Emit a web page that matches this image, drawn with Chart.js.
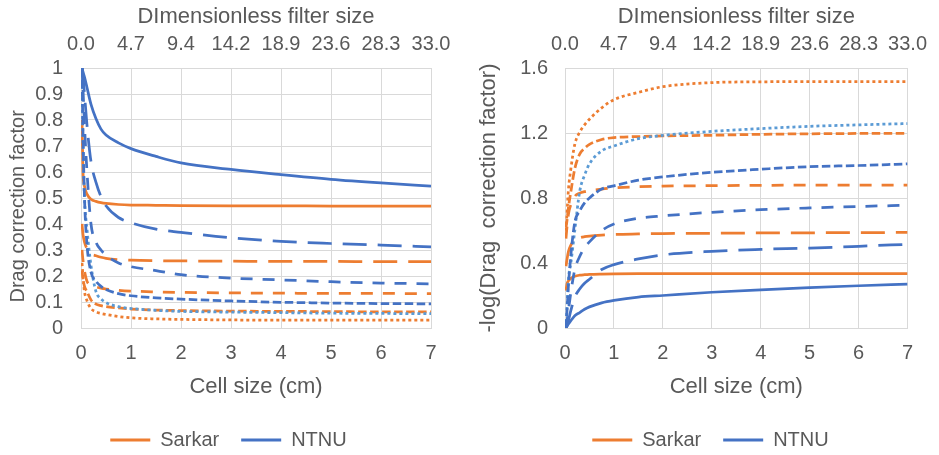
<!DOCTYPE html>
<html>
<head>
<meta charset="utf-8">
<script src="https://cdn.jsdelivr.net/npm/chart.js@4.4.1/dist/chart.umd.min.js"></script>
<style>
  html, body { margin: 0; padding: 0; background: #ffffff; }
  #wrap { position: relative; width: 939px; height: 455px; }
  .panel { position: absolute; top: 0; height: 455px; }
  #p1 { left: 0; width: 470px; }
  #p2 { left: 470px; width: 469px; }
</style>
</head>
<body>
<div id="wrap">
  <div class="panel" id="p1"><canvas id="c1"></canvas></div>
  <div class="panel" id="p2"><canvas id="c2"></canvas></div>
</div>
<script>
// Cell size (cm) at which each curve is sampled
const cellSize = [0.02, 0.04, 0.07, 0.12, 0.2, 0.3, 0.4, 0.5, 0.75, 1, 1.5, 2, 3, 4, 5, 6, 7];

// Tick labels
const bottomTicks = ['0', '1', '2', '3', '4', '5', '6', '7'];
const topTicks = ['0.0', '4.7', '9.4', '14.2', '18.9', '23.6', '28.3', '33.0'];
const factorTicks = ['0', '0.1', '0.2', '0.3', '0.4', '0.5', '0.6', '0.7', '0.8', '0.9', '1'];
const logTicks = ['0', '0.4', '0.8', '1.2', '1.6'];

// Drag correction factor (left panel)
const sarkarSolid = [0.80, 0.60, 0.545, 0.515, 0.495, 0.487, 0.482, 0.479, 0.475, 0.473, 0.472, 0.471, 0.470, 0.470, 0.469, 0.469, 0.469];
const sarkarLong  = [0.40, 0.36, 0.33, 0.305, 0.285, 0.278, 0.272, 0.268, 0.263, 0.261, 0.259, 0.258, 0.257, 0.256, 0.256, 0.255, 0.255];
const sarkarDash  = [0.30, 0.26, 0.22, 0.18, 0.165, 0.158, 0.153, 0.15, 0.145, 0.142, 0.139, 0.137, 0.135, 0.134, 0.133, 0.133, 0.132];
const sarkarShort = [0.22, 0.19, 0.16, 0.14, 0.108, 0.092, 0.086, 0.082, 0.077, 0.073, 0.069, 0.067, 0.065, 0.064, 0.063, 0.062, 0.062];
const sarkarDot   = [0.25, 0.20, 0.14, 0.105, 0.075, 0.062, 0.056, 0.052, 0.044, 0.039, 0.035, 0.033, 0.031, 0.030, 0.030, 0.030, 0.030];
const ntnuSolid   = [1.00, 0.985, 0.965, 0.925, 0.86, 0.805, 0.765, 0.742, 0.712, 0.69, 0.66, 0.635, 0.61, 0.59, 0.572, 0.558, 0.546];
const ntnuLong    = [1.00, 0.97, 0.90, 0.78, 0.64, 0.56, 0.505, 0.47, 0.425, 0.405, 0.38, 0.368, 0.347, 0.333, 0.325, 0.319, 0.312];
const ntnuDash    = [1.00, 0.92, 0.78, 0.60, 0.40, 0.33, 0.30, 0.28, 0.25, 0.236, 0.221, 0.205, 0.192, 0.185, 0.178, 0.173, 0.170];
const ntnuShort   = [1.00, 0.75, 0.50, 0.32, 0.215, 0.18, 0.16, 0.148, 0.132, 0.124, 0.116, 0.111, 0.104, 0.099, 0.096, 0.094, 0.093];
const ntnuDot     = [1.00, 0.70, 0.50, 0.38, 0.24, 0.14, 0.112, 0.098, 0.082, 0.075, 0.068, 0.064, 0.061, 0.059, 0.057, 0.056, 0.055];

// -log(drag correction factor) (right panel)
const sarkarSolidLog = [0.23, 0.27, 0.29, 0.305, 0.318, 0.325, 0.328, 0.33, 0.332, 0.333, 0.334, 0.334, 0.335, 0.335, 0.335, 0.335, 0.335];
const sarkarLongLog  = [0.38, 0.42, 0.47, 0.51, 0.54, 0.555, 0.562, 0.566, 0.572, 0.576, 0.579, 0.581, 0.583, 0.585, 0.586, 0.587, 0.588];
const sarkarDashLog  = [0.55, 0.62, 0.70, 0.76, 0.81, 0.83, 0.839, 0.845, 0.855, 0.862, 0.869, 0.873, 0.876, 0.878, 0.879, 0.88, 0.88];
const sarkarShortLog = [0.62, 0.66, 0.74, 0.84, 0.98, 1.07, 1.105, 1.13, 1.16, 1.172, 1.178, 1.182, 1.186, 1.192, 1.195, 1.197, 1.198];
const sarkarDotLog   = [0.60, 0.70, 0.85, 0.98, 1.13, 1.205, 1.25, 1.285, 1.355, 1.405, 1.45, 1.485, 1.51, 1.515, 1.516, 1.516, 1.516];
const ntnuSolidLog   = [0, 0.01, 0.025, 0.045, 0.075, 0.095, 0.115, 0.13, 0.155, 0.17, 0.19, 0.20, 0.22, 0.235, 0.248, 0.26, 0.27];
const ntnuLongLog    = [0, 0.013, 0.046, 0.108, 0.19, 0.24, 0.275, 0.30, 0.36, 0.39, 0.425, 0.45, 0.472, 0.484, 0.492, 0.503, 0.515];
const ntnuDashLog    = [0, 0.04, 0.11, 0.22, 0.36, 0.44, 0.495, 0.53, 0.60, 0.64, 0.675, 0.69, 0.712, 0.728, 0.739, 0.748, 0.755];
const ntnuShortLog   = [0, 0.10, 0.26, 0.45, 0.65, 0.72, 0.77, 0.80, 0.855, 0.875, 0.91, 0.93, 0.958, 0.977, 0.993, 1.0, 1.01];
const ntnuDotLog     = [0, 0.12, 0.30, 0.40, 0.60, 0.84, 0.94, 1.01, 1.09, 1.12, 1.165, 1.185, 1.21, 1.227, 1.241, 1.25, 1.258];

// Look
const ORANGE = '#ED7D31';
const BLUE = '#4472C4';
const LIGHT_BLUE = '#5B9BD5';
const TEXT = '#595959';
const GRID = '#D9D9D9';
const FONT = "'Liberation Sans', Arial, sans-serif";
const DASH = {
  solid: [],
  long: [24, 11],
  dash: [12, 10],
  short: [8.5, 3.5],
  dot: [3, 3]
};

function series(label, color, dash, values) {
  return {
    label: label,
    data: cellSize.map((x, i) => ({ x: x, y: values[i] })),
    borderColor: color,
    backgroundColor: color,
    borderDash: dash,
    borderWidth: 2.75,
    borderCapStyle: 'butt',
    pointRadius: 0,
    pointHoverRadius: 0,
    fill: false,
    cubicInterpolationMode: 'monotone'
  };
}

// Nudges the bottom legend sideways after layout
function legendShift(dx) {
  return {
    id: 'legendShift',
    afterLayout(chart) {
      if (chart.legend) {
        chart.legend.left += dx;
        chart.legend.right += dx;
      }
    }
  };
}

function makePanel(canvasId, sets, yMax, yStep, yLabels, yTitle, yTitleSize, axisWidth, yTickPad, rightPad, legendDx) {
  const tickFont = { family: FONT, size: 20 };
  const titleFont = { family: FONT, size: 22 };
  const yTitleFont = { family: FONT, size: yTitleSize };
  return new Chart(document.getElementById(canvasId), {
    type: 'line',
    data: { datasets: sets },
    plugins: [legendShift(legendDx)],
    options: {
      responsive: true,
      maintainAspectRatio: false,
      animation: false,
      devicePixelRatio: 1,
      events: [],
      layout: { padding: { left: 0, right: rightPad, top: 0, bottom: -5 } },
      scales: {
        x: {
          type: 'linear', position: 'bottom', min: 0, max: 7,
          ticks: { stepSize: 1, color: TEXT, font: tickFont, padding: 13.5, maxRotation: 0, autoSkip: false,
                   callback: (v, i) => bottomTicks[i] },
          grid: { color: GRID, lineWidth: 1, drawTicks: false },
          border: { color: GRID, width: 1 },
          title: { display: true, text: 'Cell size (cm)', color: TEXT, font: titleFont,
                   padding: { top: 0, bottom: 8 } },
          afterFit: s => { s.height = 80; }
        },
        x2: {
          type: 'linear', position: 'top', min: 0, max: 7,
          ticks: { stepSize: 1, color: TEXT, font: tickFont, padding: 12, maxRotation: 0, autoSkip: false,
                   callback: (v, i) => topTicks[i] },
          grid: { display: false, drawTicks: false },
          border: { display: false },
          title: { display: true, text: 'DImensionless filter size', color: TEXT, font: titleFont,
                   padding: { top: 4, bottom: 0 } },
          afterFit: s => { s.height = 68; }
        },
        y: {
          type: 'linear', position: 'left', min: 0, max: yMax,
          ticks: { stepSize: yStep, color: TEXT, font: tickFont, padding: yTickPad, autoSkip: false,
                   callback: (v, i) => yLabels[i] },
          grid: { color: GRID, lineWidth: 1, drawTicks: false },
          border: { color: GRID, width: 1 },
          title: { display: true, text: yTitle, color: TEXT, font: yTitleFont,
                   padding: { top: 6, bottom: 0 } },
          afterFit: s => { s.width = axisWidth; }
        }
      },
      plugins: {
        tooltip: { enabled: false },
        legend: {
          display: true,
          position: 'bottom',
          labels: {
            color: TEXT,
            font: { family: FONT, size: 20 },
            boxWidth: 40,
            boxHeight: 3,
            padding: 22,
            generateLabels: () => [
              { text: 'Sarkar', fillStyle: ORANGE, strokeStyle: ORANGE, lineWidth: 0, hidden: false, fontColor: TEXT },
              { text: 'NTNU', fillStyle: BLUE, strokeStyle: BLUE, lineWidth: 0, hidden: false, fontColor: TEXT }
            ]
          }
        }
      }
    }
  });
}

const leftSets = [
  series('NTNU', BLUE, DASH.solid, ntnuSolid),
  series('NTNU', BLUE, DASH.long, ntnuLong),
  series('NTNU', BLUE, DASH.dash, ntnuDash),
  series('NTNU', BLUE, DASH.short, ntnuShort),
  series('NTNU', LIGHT_BLUE, DASH.dot, ntnuDot),
  series('Sarkar', ORANGE, DASH.solid, sarkarSolid),
  series('Sarkar', ORANGE, DASH.long, sarkarLong),
  series('Sarkar', ORANGE, DASH.dash, sarkarDash),
  series('Sarkar', ORANGE, DASH.short, sarkarShort),
  series('Sarkar', ORANGE, DASH.dot, sarkarDot)
];

const rightSets = [
  series('NTNU', BLUE, DASH.solid, ntnuSolidLog),
  series('NTNU', BLUE, DASH.long, ntnuLongLog),
  series('NTNU', BLUE, DASH.dash, ntnuDashLog),
  series('NTNU', BLUE, DASH.short, ntnuShortLog),
  series('NTNU', LIGHT_BLUE, DASH.dot, ntnuDotLog),
  series('Sarkar', ORANGE, DASH.solid, sarkarSolidLog),
  series('Sarkar', ORANGE, DASH.long, sarkarLongLog),
  series('Sarkar', ORANGE, DASH.dash, sarkarDashLog),
  series('Sarkar', ORANGE, DASH.short, sarkarShortLog),
  series('Sarkar', ORANGE, DASH.dot, sarkarDotLog)
];

makePanel('c1', leftSets, 1, 0.1, factorTicks, 'Drag correction factor   ', 20, 81, 18, 39, 13);
makePanel('c2', rightSets, 1.6, 0.4, logTicks, '-log(Drag  correction factor)', 22, 95, 17, 24, 18);
</script>
</body>
</html>
